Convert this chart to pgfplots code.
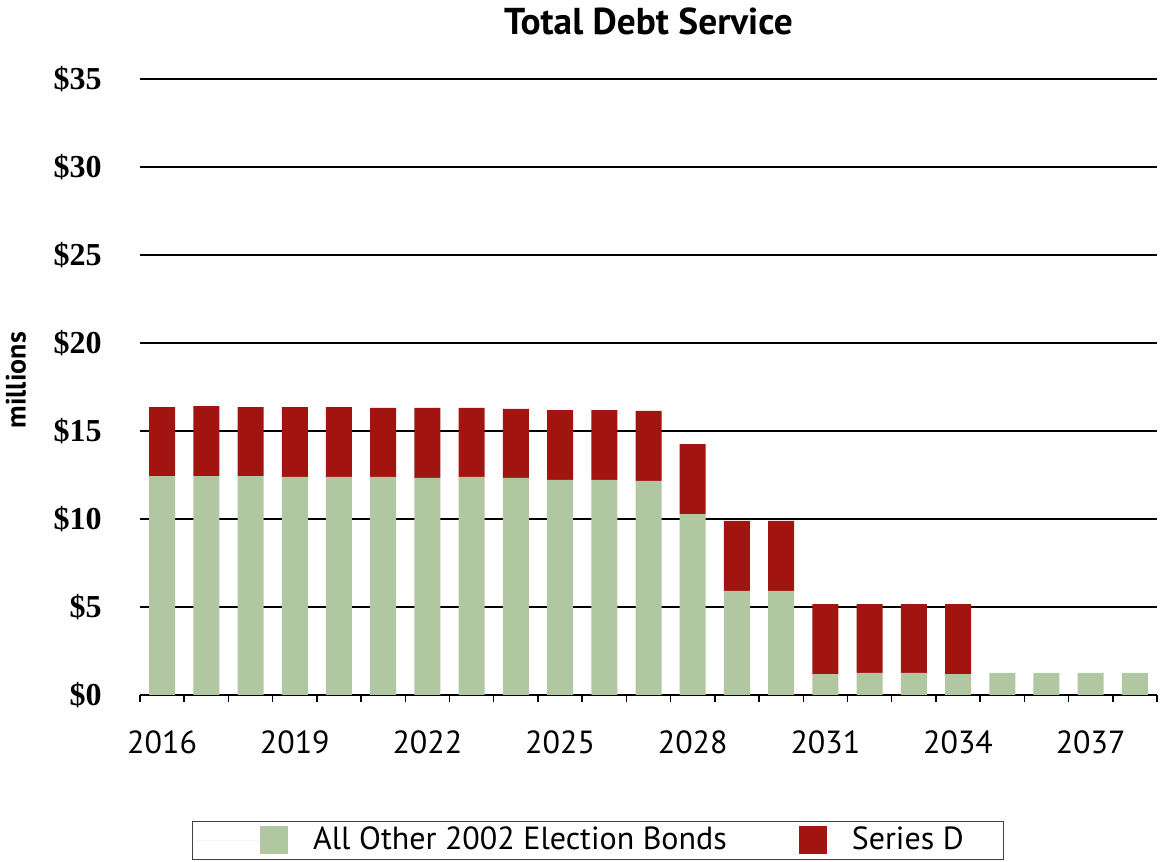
\documentclass[border=0pt]{standalone}
\usepackage{fontspec}
\setmainfont{PT Sans}
\newfontfamily\seriffont{Liberation Serif}
\usepackage{pgfplots}
\pgfplotsset{compat=1.18}
\definecolor{gbar}{HTML}{B1C7A1}
\definecolor{rbar}{HTML}{A2140F}
\pgfplotsset{
  legg/.style={legend image code/.code={\path (0pt,0pt) -- (34pt,0pt); \fill[##1] (34pt,-7pt) rectangle (48pt,7pt);}},
  legr/.style={legend image code/.code={\fill[##1] (0pt,-7pt) rectangle (14pt,7pt);}}
}
\begin{document}
\begin{tikzpicture}
\useasboundingbox (0,0) rectangle (580pt,430.5pt);
\begin{axis}[
  at={(70pt,83pt)}, anchor=south west,
  scale only axis, width=508.5pt, height=308pt,
  ybar stacked, bar width=13pt,
  xmin=-0.5, xmax=22.5, ymin=0, ymax=35,
  axis x line*=bottom, axis y line*=left,
  y axis line style={draw=none},
  x axis line style={black, line width=0.75pt},
  xtick={0,3,...,21},
  xticklabels={2016,2019,2022,2025,2028,2031,2034,2037},
  minor xtick={-0.5,0.5,...,22.5},
  major tick length=0pt, minor tick length=3.5pt,
  tick align=outside,
  xtick style={black, line width=0.75pt},
  ytick style={draw=none},
  ytick={0,5,...,35},
  yticklabels={\$0,\$5,\$10,\$15,\$20,\$25,\$30,\$35},
  ymajorgrids, grid style={black, line width=0.6pt},
  x tick label style={font=\fontsize{16}{19}\selectfont, anchor=base, inner sep=0pt, yshift=-29.5pt},
  y tick label style={font=\seriffont\bfseries\fontsize{16}{19}\selectfont, anchor=east, inner sep=0pt, xshift=-19pt},
  title={Total Debt Service},
  title style={font=\bfseries\fontsize{18.7}{22}\selectfont, at={(axis description cs:0.5,1.0747)}, anchor=center},
  ylabel={millions},
  every axis y label/.style={font=\bfseries\fontsize{14}{17}\selectfont, at={(axis description cs:-0.122,0.511)}, anchor=center, rotate=90},
  legend columns=-1,
  legend style={at={(axis description cs:0.4503,-0.2354)}, anchor=center,
    draw=black!75, line width=0.5pt, inner xsep=0pt, inner ysep=2.5pt,
    font=\fontsize{16}{19}\selectfont, nodes={inner sep=0pt},
    /tikz/column 1/.style={column sep=12.5pt},
    /tikz/column 2/.style={column sep=36pt},
    /tikz/column 3/.style={column sep=12.5pt}},
]
\addplot[fill=gbar, draw=none, legg]
  coordinates {
  (0,12.44) (1,12.44) (2,12.44) (3,12.39) (4,12.39) (5,12.39) (6,12.33) (7,12.39)
  (8,12.33) (9,12.22) (10,12.22) (11,12.16) (12,10.28) (13,5.91) (14,5.91)
  (15,1.19) (16,1.25) (17,1.25) (18,1.19) (19,1.25) (20,1.25) (21,1.25) (22,1.25)};
\addplot[fill=rbar, draw=none, legr]
  coordinates {
  (0,3.92) (1,3.98) (2,3.92) (3,3.97) (4,3.97) (5,3.92) (6,3.98) (7,3.92)
  (8,3.92) (9,3.97) (10,3.97) (11,3.98) (12,3.98) (13,3.98) (14,3.98)
  (15,3.98) (16,3.92) (17,3.92) (18,3.98) (19,0) (20,0) (21,0) (22,0)};
\legend{All Other 2002 Election Bonds,Series D\rule{20pt}{0pt}}
\end{axis}
\end{tikzpicture}
\end{document}
